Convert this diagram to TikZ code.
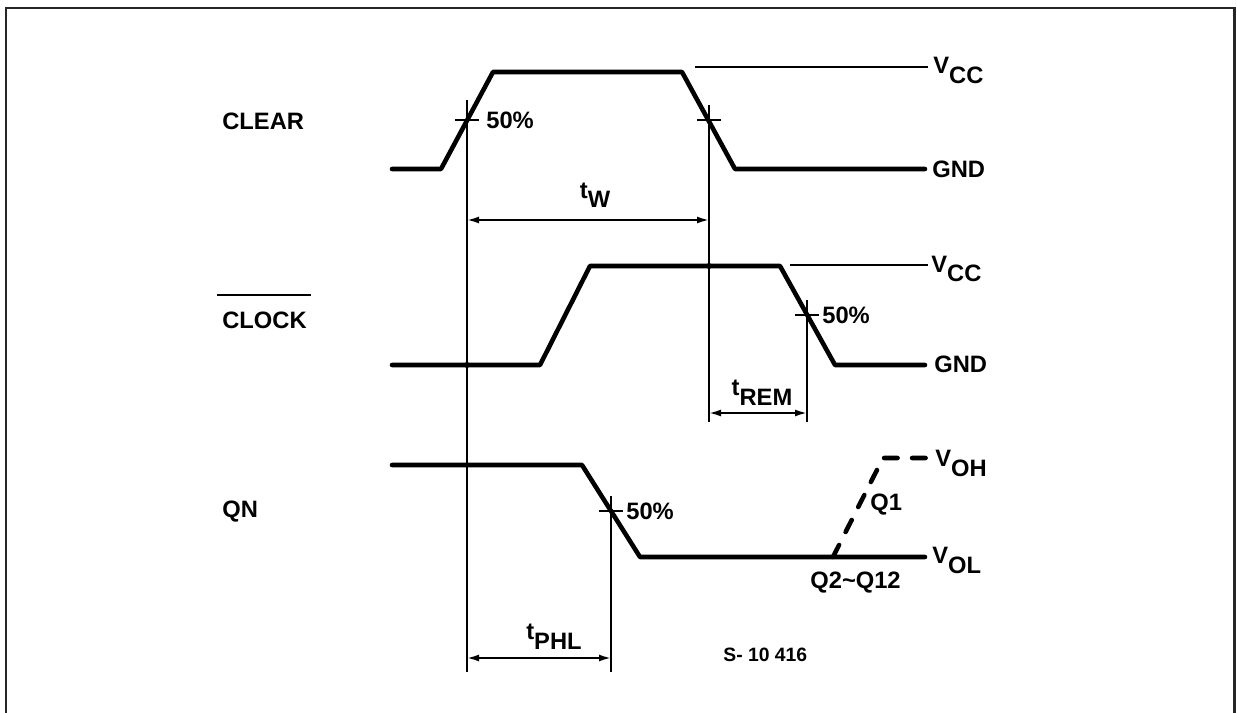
\documentclass[tikz,border=0pt]{standalone}
\usepackage{fontspec}
\setmainfont{Liberation Sans}
\usepackage{tikz}
\usetikzlibrary{positioning,arrows.meta}

\newcommand{\lowsub}[1]{\raisebox{-0.2cm}{#1}}

\begin{document}
\begin{tikzpicture}[x=0.02cm,y=-0.02cm,
		sig/.style={line width=2.6pt, line join=round, line cap=round},
		thinline/.style={line width=1.1pt},
		dim/.style={line width=1.1pt, {Latex[length=2.4mm,width=1.4mm]}-{Latex[length=2.4mm,width=1.4mm]}},
		lbl/.style={inner sep=0pt, font=\fontsize{13.5}{16}\selectfont\bfseries},
		small/.style={inner sep=0pt, font=\fontsize{11}{13}\selectfont\bfseries}]
		
		\useasboundingbox (0,0) rectangle (1237,713);
		\draw[line width=1.7pt, black!85] (6,730) -- (6,8) -- (1234,8) -- (1234,730);
		
		% signal names
		\node[lbl, anchor=west] (clear) at (222,121) {CLEAR};
		\node[lbl, anchor=west] (clock) at (222,320) {CLOCK};
		\draw[thinline] ([xshift=-3pt, yshift=9pt]clock.north west) -- ([xshift=2pt, yshift=9pt]clock.north east);
		\node[lbl, anchor=west] (qn) at (222,512) {QN};
		
		% waveforms
		\draw[sig] (392,169) -- (441,169) -- (493,72) -- (682,72) -- (735,169) -- (925,169);
		\draw[thinline] (695,67) -- (928,67);
		\draw[sig] (392,365) -- (540,365) -- (590,266) -- (780,266) -- (835,365) -- (925,365);
		\draw[thinline] (790,265) -- (928,265);
		\draw[sig] (392,465) -- (582,465) -- (640,557) -- (925,557);
		\draw[sig, dash pattern=on 0.27cm off 0.29cm] (833,557) -- (883,458) -- (930,458);
		
		% 50% points
		\coordinate (c1) at (467,120);
		\coordinate (c2) at (709,120);
		\coordinate (c3) at (807,315);
		\coordinate (c4) at (611,511);
		\coordinate (clkl) at (0,365);
		\coordinate (clkh) at (0,266);
		\coordinate (twy) at (0,220);
		\coordinate (remy) at (0,413);
		\coordinate (phly) at (0,658);
		\coordinate (endw) at (0,672);
		\coordinate (endr) at (0,422);
		
		\foreach \c in {c1,c2,c3,c4}
		\draw[thinline] ([xshift=-0.24cm]\c) -- ([xshift=0.24cm]\c);
		
		\draw[thinline] ([yshift=0.4cm]c1) -- (c1 |- endw);
		\draw[thinline] ([yshift=0.3cm]c2) -- (c2 |- endr);
		\draw[thinline] ([yshift=0.3cm]c3) -- (c3 |- endr);
		\draw[thinline] ([yshift=0.3cm]c4) -- (c4 |- endw);
		\fill (c1 |- clkl) circle (1.7pt);
		\fill (c2 |- clkh) circle (1.7pt);
		
		\node[lbl, anchor=west] (p1) at ([xshift=0.38cm]c1) {50\%};
		\node[lbl, anchor=west] (p3) at ([xshift=0.3cm]c3) {50\%};
		\node[lbl, anchor=west] (p4) at ([xshift=0.3cm]c4) {50\%};
		
		% timing intervals
		\draw[dim] (c1 |- twy) -- (c2 |- twy);
		\node[lbl, anchor=base] (tw) at (595,198) {t\lowsub{W}};
		\draw[dim] (c2 |- remy) -- (c3 |- remy);
		\node[lbl, anchor=base] (trem) at (762,395) {t\lowsub{REM}};
		\draw[dim] (c1 |- phly) -- (c4 |- phly);
		\node[lbl, anchor=base] (tphl) at (554,639) {t\lowsub{PHL}};
		
		% levels
		\node[lbl, anchor=base west] (vcc1) at (933,74) {V\lowsub{CC}};
		\node[lbl, anchor=base west] (gnd1) at (932,177) {GND};
		\node[lbl, anchor=base west] (vcc2) at (931,272) {V\lowsub{CC}};
		\node[lbl, anchor=base west] (gnd2) at (934,372) {GND};
		\node[lbl, anchor=base west] (voh) at (935,466) {V\lowsub{OH}};
		\node[lbl, anchor=base west] (vol) at (932,563) {V\lowsub{OL}};
		\node[lbl, anchor=base west] (q1) at (870,510) {Q1};
		\node[lbl, anchor=base west] (q2) at (810,588) {Q2\textasciitilde Q12};
		
		\node[small, anchor=base west] (ref) at (723,661) {S- 10 416};
		
	\end{tikzpicture}
\end{document}
